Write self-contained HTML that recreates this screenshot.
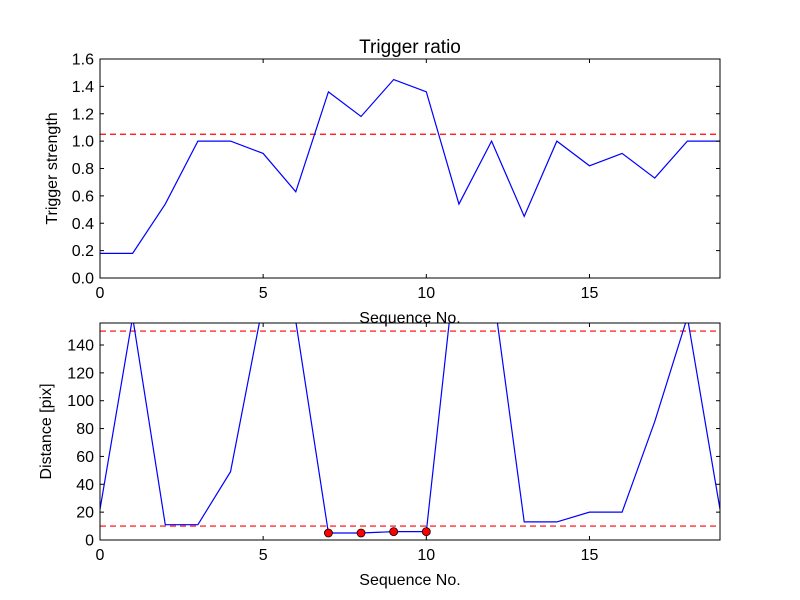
<!DOCTYPE html>
<html><head><meta charset="utf-8"><style>
body{margin:0;background:#fff}
svg{display:block;font-family:"Liberation Sans",sans-serif}
</style></head><body>
<svg id="c" width="800" height="600"></svg>
<script>
const seq=[0,1,2,3,4,5,6,7,8,9,10,11,12,13,14,15,16,17,18,19];
const strength=[0.18,0.18,0.54,1.0,1.0,0.91,0.63,1.36,1.18,1.45,1.36,0.54,1.0,0.45,1.0,0.82,0.91,0.73,1.0,1.0];
const strengthThreshold=[1.05];
const distance=[22,160,11,11,49,170,157,5,5,6,6,220,187,13,13,20,20,85,160,22];
const distanceThresholds=[150,10];
const markedIdx=[7,8,9,10];
const xTicks=[0,5,10,15];
const yTicksTop=[0,0.2,0.4,0.6,0.8,1.0,1.2,1.4,1.6];
const yTicksBot=[0,20,40,60,80,100,120,140];

const NS="http://www.w3.org/2000/svg";
const svg=document.getElementById('c');
function el(t,a,p){const e=document.createElementNS(NS,t);for(const k in a)e.setAttribute(k,a[k]);(p||svg).appendChild(e);return e;}
function txt(s,a,p){const e=el('text',a,p);e.textContent=s;return e;}

function panel(o){
  const {L,R,T,B,xmin,xmax,ymin,ymax,id}=o;
  const X=v=>L+(v-xmin)/(xmax-xmin)*(R-L);
  const Y=v=>B-(v-ymin)/(ymax-ymin)*(B-T);
  const g=el('g',{});
  
  
  const clipId='clip-'+id;
  const cp=el('clipPath',{id:clipId},g);el('rect',{x:L,y:T,width:R-L,height:B-T},cp);
  const cg=el('g',{'clip-path':'url(#'+clipId+')'},g);
  o.thresholds.forEach(t=>{
    const l=el('line',{x1:L,x2:R,y1:Y(t),y2:Y(t),stroke:'#ff0000','stroke-width':1.2,'stroke-dasharray':'6,4'},cg);
    
    
  });
  const pl=el('polyline',{points:o.xs.map((x,i)=>X(x)+','+Y(o.ys[i])).join(' '),fill:'none',stroke:'#0000ff','stroke-width':1.2},cg);
  
  
  (o.marks||[]).forEach(i=>{
    const c=el('circle',{cx:X(o.xs[i]),cy:Y(o.ys[i]),r:4,fill:'#ff0000',stroke:'#000','stroke-width':0.8},g);
    
    
  });
  const fr=el('rect',{x:L,y:T,width:R-L,height:B-T,fill:'none',stroke:'#000','stroke-width':1},g);
  
  
  o.xticks.forEach(v=>{
    el('line',{x1:X(v),x2:X(v),y1:B,y2:B-4,stroke:'#000'},g);
    el('line',{x1:X(v),x2:X(v),y1:T,y2:T+4,stroke:'#000'},g);
    const t=txt(String(v),{x:X(v),y:B+20,'text-anchor':'middle','font-size':16},g);
    
    
  });
  o.yticks.forEach(v=>{
    el('line',{x1:L,x2:L+4,y1:Y(v),y2:Y(v),stroke:'#000'},g);
    el('line',{x1:R,x2:R-4,y1:Y(v),y2:Y(v),stroke:'#000'},g);
    const t=txt(o.fmt(v),{x:L-6,y:Y(v)+5.5,'text-anchor':'end','font-size':16},g);
    
    
  });
  const xl=txt('Sequence No.',{x:(L+R)/2,y:B+45,'text-anchor':'middle','font-size':16},g);
  
  
  const yl=txt(o.ylabel,{x:0,y:0,'text-anchor':'middle','font-size':16,transform:'translate('+o.ylx+','+((T+B)/2)+') rotate(-90)'},g);
  
  
  if(o.title){
    const tt=txt(o.title,{x:(L+R)/2,y:T-6,'text-anchor':'middle','font-size':19},g);
    
    
  }
}
panel({id:'top',L:100,R:720,T:59,B:278,xmin:0,xmax:19,ymin:0,ymax:1.6,xs:seq,ys:strength,thresholds:strengthThreshold,xticks:xTicks,yticks:yTicksTop,fmt:v=>v.toFixed(1),ylabel:'Trigger strength',ylx:57,title:'Trigger ratio'});
panel({id:'bottom',L:100,R:720,T:323,B:540,xmin:0,xmax:19,ymin:0,ymax:155.8,xs:seq,ys:distance,thresholds:distanceThresholds,marks:markedIdx,xticks:xTicks,yticks:yTicksBot,fmt:v=>String(v),ylabel:'Distance [pix]',ylx:51});
</script>
</body></html>
